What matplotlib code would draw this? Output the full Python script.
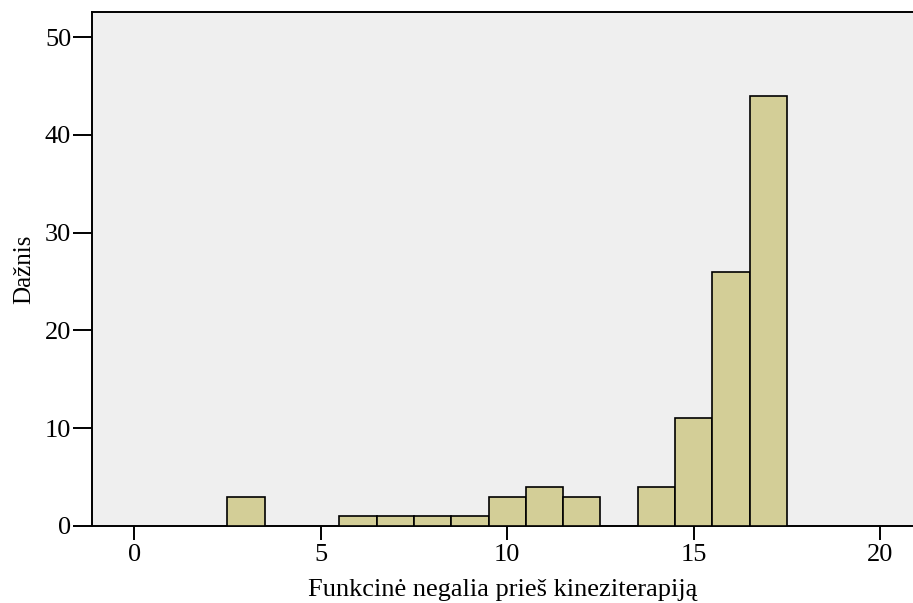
#!/usr/bin/env python3
import matplotlib.pyplot as plt
import numpy as np

# histogram data (bin centres and counts)
scores = [3, 6, 7, 8, 9, 10, 11, 12, 14, 15, 16, 17]
counts = [3, 1, 1, 1, 1, 3, 4, 3, 4, 11, 26, 44]
xticks = [0, 5, 10, 15, 20]
yticks = [0, 10, 20, 30, 40, 50]

plt.rcParams['font.family'] = ['Liberation Serif', 'DejaVu Serif']

fig = plt.figure(figsize=(9.13, 6.03), dpi=100)
ax = fig.add_axes([0.1008, 0.1277, 0.8992, 0.8524])
ax.set_facecolor('#efefef')

ax.bar(scores, counts, width=1.0, color='#d3ce97', edgecolor='black',
       linewidth=1.2, zorder=3)

ax.set_xlim(-1.13, 20.88)
ax.set_ylim(0, 52.56)
ax.set_xticks(xticks)
ax.set_yticks(yticks)
ax.tick_params(axis='x', direction='out', length=10, width=1.4, labelsize=19, pad=3)
ax.tick_params(axis='y', direction='out', length=14, width=1.4, labelsize=19, pad=1)

for s in ['left', 'bottom', 'top']:
    ax.spines[s].set_linewidth(1.4)
ax.spines['right'].set_visible(False)

ax.set_xlabel('Funkcinė negalia prieš kineziterapiją', fontsize=19, labelpad=9)
ax.set_ylabel('Dažnis', fontsize=18, labelpad=7)

fig.savefig('out.png', dpi=100)
